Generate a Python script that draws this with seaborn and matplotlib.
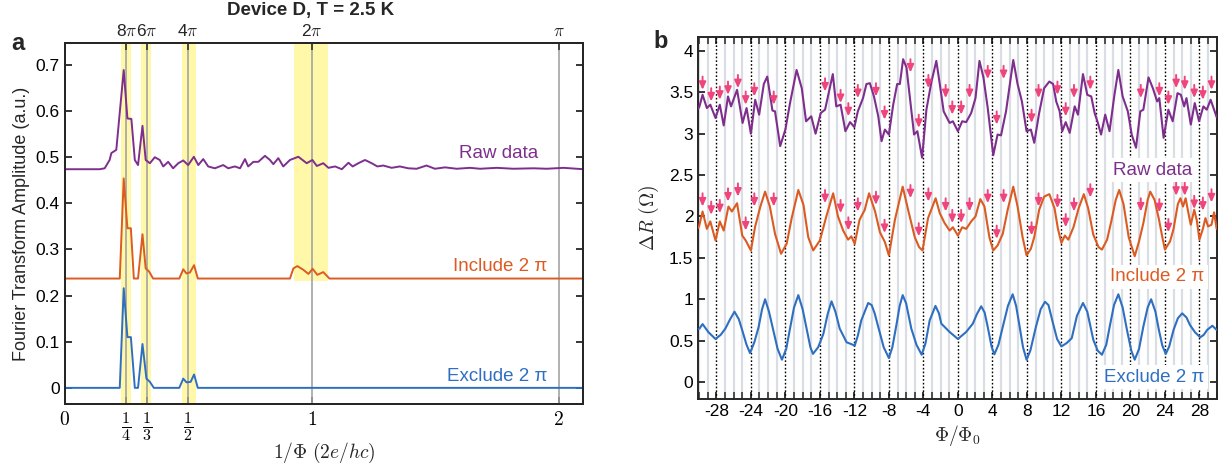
import numpy as np
import pandas as pd
import matplotlib
matplotlib.use("Agg")
import matplotlib.pyplot as plt
import seaborn as sns

# ---------------- data: panel a (Fourier spectra) ----------------
ft_raw_f = [0, 0.142, 0.162, 0.182, 0.189, 0.209, 0.239, 0.254, 0.270, 0.284, 0.297, 0.315,
            0.328, 0.345, 0.365, 0.385, 0.399, 0.419, 0.439, 0.460, 0.480, 0.500, 0.523,
            0.541, 0.561, 0.581, 0.608, 0.642, 0.662, 0.689, 0.710, 0.730, 0.743, 0.764,
            0.784, 0.811, 0.831, 0.845, 0.865, 0.885, 0.912, 0.946, 0.980, 1.003, 1.021,
            1.047, 1.068, 1.095, 1.122, 1.149, 1.166, 1.189, 1.216, 1.243, 1.266, 1.290,
            1.324, 1.357, 1.391, 1.425, 1.465, 1.499, 1.540, 1.587, 1.641, 1.682, 1.749,
            1.817, 1.898, 1.952, 2.020, 2.101]
ft_raw_a = [0.474, 0.474, 0.476, 0.494, 0.509, 0.516, 0.689, 0.584, 0.583, 0.494, 0.483, 0.568,
            0.494, 0.487, 0.500, 0.494, 0.480, 0.490, 0.476, 0.487, 0.493, 0.483, 0.501,
            0.483, 0.496, 0.480, 0.476, 0.483, 0.476, 0.480, 0.476, 0.496, 0.480, 0.490,
            0.490, 0.503, 0.494, 0.485, 0.498, 0.480, 0.494, 0.501, 0.487, 0.494, 0.481,
            0.487, 0.477, 0.480, 0.474, 0.488, 0.480, 0.487, 0.494, 0.487, 0.480, 0.482,
            0.477, 0.480, 0.476, 0.475, 0.482, 0.475, 0.478, 0.475, 0.477, 0.475, 0.477,
            0.475, 0.476, 0.475, 0.477, 0.474]

ft_inc_f = [0, 0.223, 0.239, 0.254, 0.268, 0.280, 0.297, 0.315, 0.328, 0.342, 0.358, 0.464,
            0.480, 0.493, 0.507, 0.524, 0.539, 0.912, 0.926, 0.942, 0.966, 0.987, 1.004,
            1.023, 1.047, 1.072, 2.101]
ft_inc_a = [0.237, 0.237, 0.454, 0.346, 0.346, 0.237, 0.237, 0.333, 0.259, 0.252, 0.237, 0.237,
            0.257, 0.248, 0.250, 0.266, 0.237, 0.237, 0.259, 0.264, 0.256, 0.247, 0.258,
            0.245, 0.251, 0.237, 0.237]

ft_exc_f = [0, 0.223, 0.239, 0.254, 0.268, 0.284, 0.297, 0.315, 0.331, 0.345, 0.361, 0.464,
            0.480, 0.493, 0.510, 0.524, 0.539, 2.101]
ft_exc_a = [0, 0, 0.216, 0.110, 0.110, 0, 0, 0.095, 0.020, 0.013, 0, 0,
            0.020, 0.012, 0.013, 0.029, 0, 0]

band_lo = [0.227, 0.309, 0.473, 0.929]
band_hi = [0.270, 0.351, 0.531, 1.068]
band_bottom = [None, None, None, 0.232]

harm_pos = [0.25, 1 / 3, 0.5, 1, 2]
harm_top_labels = ["8$\\pi$", "6$\\pi$", "4$\\pi$", "2$\\pi$", "$\\pi$"]
bottom_ticks = [0, 0.25, 1 / 3, 0.5, 1, 2]
bottom_labels = ["$0$", r"$\frac{1}{4}$", r"$\frac{1}{3}$", r"$\frac{1}{2}$", "$1$", "$2$"]

# ---------------- data: panel b (magnetoresistance) ----------------
raw_phi = [-30.1, -29.96, -29.6, -29.1, -28.7, -28.1, -27.6, -27.15, -26.65, -26.3, -25.6, -24.96,
           -24.5, -24.0, -23.5, -23.04, -22.5, -22.1, -21.5, -21.2, -20.6, -20.0, -19.46, -18.7,
           -18.1, -17.6, -17.0, -16.5, -15.9, -15.4, -14.5, -14.1, -13.6, -13.04, -12.5, -12.0,
           -11.6, -11.0, -10.6, -10.2, -9.73, -9.23, -8.85, -8.46, -8.0, -7.5, -7.04, -6.73,
           -6.35, -5.96, -5.58, -5.08, -4.7, -4.15, -3.65, -3.08, -2.5, -2.1, -1.65, -0.96,
           -0.58, 0.0, 0.5, 0.96, 1.54, 2.04, 2.5, 2.96, 3.46, 4.1, 4.6, 5.0, 5.58, 6.42, 6.92,
           7.42, 7.96, 8.46, 8.85, 9.42, 10.0, 10.6, 11.04, 11.4, 11.8, 12.1, 12.5, 12.96, 13.54,
           13.92, 14.5, 15.0, 15.46, 15.85, 16.23, 16.6, 17.08, 17.58, 18.15, 18.6, 19.1, 19.7,
           20.15, 20.65, 21.15, 21.5, 22.1, 22.6, 23.1, 23.35, 23.85, 24.4, 24.9, 25.46, 25.85,
           26.23, 26.5, 27.0, 27.46, 27.96, 28.46, 28.85, 29.3, 29.9, 30.0]
raw_dr = [3.30, 3.33, 3.47, 3.31, 3.35, 3.19, 3.35, 3.10, 3.45, 3.33, 3.53, 3.13,
          3.31, 3.00, 3.41, 3.23, 3.60, 3.69, 3.28, 3.27, 2.85, 3.05, 3.37, 3.77,
          3.55, 3.15, 3.21, 3.00, 3.25, 3.29, 3.72, 3.33, 3.35, 3.03, 3.14, 3.08,
          3.27, 3.43, 3.60, 3.61, 3.45, 3.21, 2.91, 3.05, 2.99, 3.35, 3.60, 3.60,
          3.90, 3.80, 3.45, 2.99, 3.03, 2.71, 3.29, 3.62, 3.88, 3.60, 3.27, 3.13,
          3.15, 3.03, 3.15, 3.14, 3.25, 3.43, 3.88, 3.68, 3.31, 2.74, 2.99, 2.98, 3.27, 3.89, 3.60,
          3.39, 3.03, 3.05, 2.89, 3.25, 3.55, 3.63, 3.60, 3.39, 3.27, 3.03, 3.14, 3.01, 3.33,
          3.23, 3.72, 3.47, 3.45, 3.25, 3.13, 2.99, 3.23, 3.03, 3.47, 3.77, 3.45, 3.27,
          2.99, 2.83, 3.27, 3.29, 3.68, 3.55, 3.39, 3.43, 2.95, 3.29, 3.15, 3.49, 3.47,
          3.33, 3.43, 3.11, 3.37, 3.15, 3.33, 3.29, 3.41, 3.23, 3.20]

inc_phi = [-30.1, -29.96, -29.6, -29.1, -28.7, -28.1, -27.6, -27.15, -26.6, -26.2, -25.6, -25.0,
           -24.6, -24.0, -23.5, -22.9, -22.35, -21.8, -21.2, -20.5, -19.85, -19.27, -18.5, -17.9,
           -17.35, -16.77, -16.0, -15.2, -14.46, -13.9, -13.3, -12.73, -12.35, -11.96, -11.4,
           -10.8, -10.3, -9.6, -9.04, -8.46, -8.0, -7.3, -6.4, -5.77, -5.0, -4.5, -4.1, -3.46,
           -2.58, -2.1, -1.54, -0.96, -0.58, 0.0, 0.5, 0.96, 1.54, 2.04, 2.6, 3.08, 3.65, 4.1,
           4.6, 5.2, 5.77, 6.42, 6.92, 7.5, 7.96, 8.46, 8.85, 9.42, 10.0, 10.6, 11.2, 11.6, 12.0,
           12.4, 12.8, 13.4, 14.0, 14.6, 15.1, 15.7, 16.3, 16.7, 17.3, 17.8, 18.3, 18.7, 19.2,
           19.8, 20.5, 21.0, 21.5, 22.0, 22.3, 22.8, 23.3, 23.7, 24.0, 24.6, 25.0, 25.5, 25.8,
           26.1, 26.4, 26.8, 27.0, 27.4, 27.7, 28.0, 28.4, 28.7, 29.0, 29.4, 29.7, 30.0]
inc_dr = [1.86, 1.90, 2.06, 1.85, 1.94, 1.71, 1.94, 1.83, 2.12, 2.06, 2.16, 1.77,
          1.71, 1.59, 1.88, 2.12, 2.30, 2.12, 1.79, 1.55, 1.67, 1.98, 2.32, 2.14,
          1.75, 1.59, 1.71, 2.02, 2.28, 2.00, 1.83, 1.72, 1.76, 1.67, 1.96,
          2.08, 2.28, 2.06, 1.81, 1.69, 1.53, 1.96, 2.36, 2.08, 1.75, 1.63, 1.59, 1.98,
          2.22, 2.04, 1.92, 1.83, 1.87, 1.77, 1.87, 1.85, 1.94, 2.00, 2.21, 2.12, 1.75, 1.59,
          1.65, 1.79, 2.08, 2.36, 2.12, 1.75, 1.53, 1.61, 1.75, 2.08, 2.24, 2.27, 2.10, 1.85, 1.68,
          1.77, 1.72, 1.87, 2.10, 2.27, 2.10, 1.78, 1.63, 1.60, 1.72, 1.95, 2.20, 2.32, 2.15,
          1.75, 1.52, 1.70, 1.92, 2.20, 2.30, 2.20, 1.97, 1.75, 1.60, 1.70, 1.85, 2.15, 2.22,
          2.12, 2.22, 2.00, 1.90, 2.08, 1.95, 1.72, 1.85, 1.98, 1.88, 1.90, 2.05, 1.85]

exc_phi = [-30.1, -29.96, -29.6, -28.9, -28.1, -27.5, -26.96, -26.4, -25.9, -25.4, -25.0, -24.5,
           -24.1, -23.6, -23.1, -22.7, -22.35, -21.9, -21.4, -20.9, -20.4, -19.9, -19.5, -19.0,
           -18.5, -18.0, -17.5, -17.1, -16.8, -16.2, -15.6, -15.1, -14.65, -14.2, -13.7, -12.9,
           -12.4, -11.96, -11.6, -11.2, -10.4, -10.0, -9.65, -9.23, -8.6, -8.0, -7.6, -7.1,
           -6.75, -6.4, -6.0, -5.4, -4.8, -4.2, -3.75, -3.27, -2.6, -2.2, -1.92, -0.96, 0.0,
           0.96, 1.73, 2.2, 2.7, 3.1, 3.46, 3.9, 4.23, 4.7, 5.2, 5.8, 6.35, 6.75, 7.1, 7.55,
           7.96, 8.4, 9.04, 9.6, 10.1, 10.5, 11.0, 11.5, 12.0, 12.6, 13.2, 13.8, 14.5, 15.0,
           15.7, 16.2, 16.7, 17.2, 17.6, 18.1, 18.6, 19.1, 19.6, 20.1, 20.5, 21.0, 21.5, 22.0,
           22.4, 22.9, 23.3, 23.7, 24.1, 24.5, 25.0, 25.5, 26.0, 26.5, 26.9, 27.5, 28.1, 28.5,
           28.9, 29.5, 30.0]
exc_dr = [0.64, 0.645, 0.70, 0.60, 0.52, 0.57, 0.645, 0.76, 0.85, 0.76, 0.625, 0.45,
          0.35, 0.48, 0.665, 0.88, 1.00, 0.85, 0.625, 0.40, 0.27, 0.40, 0.625, 0.90,
          1.05, 0.88, 0.625, 0.42, 0.34, 0.42, 0.58, 0.82, 0.975, 0.85, 0.645, 0.48,
          0.46, 0.44, 0.56, 0.745, 0.955, 0.93, 0.83, 0.665, 0.42, 0.29, 0.42, 0.705,
          0.92, 1.05, 0.95, 0.645, 0.45, 0.33, 0.47, 0.745, 0.92, 0.83, 0.705, 0.605, 0.52,
          0.605, 0.705, 0.82, 0.915, 0.84, 0.665, 0.43, 0.335, 0.45, 0.665, 0.92, 1.06, 0.92, 0.705, 0.42,
          0.27, 0.38, 0.665, 0.88, 0.97, 0.93, 0.72, 0.52, 0.43, 0.47, 0.53, 0.80, 0.955, 0.85,
          0.51, 0.38, 0.33, 0.45, 0.67, 0.93, 1.06, 0.90, 0.63, 0.38, 0.27, 0.40, 0.67, 0.90,
          1.00, 0.85, 0.63, 0.44, 0.34, 0.43, 0.63, 0.77, 0.83, 0.78, 0.69, 0.60, 0.54, 0.57,
          0.63, 0.68, 0.63]

arrow_phi = [-29.6, -28.6, -27.6, -26.65, -25.5, -24.6, -23.6, -21.35, -15.4, -13.6, -12.7, -11.6,
             -9.5, -8.5, -5.5, -4.54, -3.42, -1.42, -0.65, 0.38, 1.35, 3.46, 4.5, 5.3, 8.54, 9.35,
             11.54, 12.5, 13.46, 15.35, 21.2, 23.35, 24.4, 25.3, 26.3, 27.4, 28.4, 29.4]
arrow_raw_tip = [3.53, 3.39, 3.41, 3.47, 3.55, 3.35, 3.45, 3.35, 3.51, 3.37, 3.21, 3.43,
                 3.45, 3.17, 3.74, 3.07, 3.55, 3.43, 3.23, 3.23, 3.43, 3.66, 3.11, 3.66, 3.13, 3.43,
                 3.47, 3.21, 3.43, 3.53, 3.43, 3.45, 3.35, 3.55, 3.53, 3.43, 3.41, 3.53]
arrow_inc_tip = [2.12, 2.02, 2.04, 2.18, 2.24, 1.83, 2.12, 2.12, 2.16, 2.04, 1.83, 2.06,
                 2.14, 1.80, 2.22, 1.76, 2.18, 2.06, 1.92, 1.92, 2.06, 2.16, 1.73, 2.16, 1.77, 2.12,
                 2.10, 1.87, 2.06, 2.23, 2.06, 2.05, 1.81, 2.25, 2.25, 2.09, 2.07, 2.17]

series_names = ["Raw data", "Include 2 \u03c0", "Exclude 2 \u03c0"]
PURPLE, ORANGE, BLUE = "#7E2F8E", "#DC5B22", "#2F6FC2"
PINK = "#F0457C"
YELLOW = "#FEF8A8"

# ---------------- style ----------------
sns.set_theme(style="ticks")
plt.rcParams["font.family"] = ["Liberation Sans", "DejaVu Sans"]
plt.rcParams["mathtext.fontset"] = "cm"
plt.rcParams["axes.linewidth"] = 1.4

fig = plt.figure(figsize=(12.25, 4.67), dpi=100)
axa = fig.add_axes([0.0528, 0.1349, 0.4234, 0.7724])
axb = fig.add_axes([0.5700, 0.1456, 0.4232, 0.7746])

# ---------------- panel a ----------------
ylo, yhi = -0.035, 0.747
for lo, hi, bt in zip(band_lo, band_hi, band_bottom):
    ymin = 0 if bt is None else (bt - ylo) / (yhi - ylo)
    axa.axvspan(lo, hi, ymin=ymin, ymax=1, color=YELLOW, lw=0, zorder=0)
for p in harm_pos:
    axa.axvline(p, color="#A3A3A3", lw=1.2, zorder=1)

for f, a, c in [(ft_raw_f, ft_raw_a, PURPLE), (ft_inc_f, ft_inc_a, ORANGE), (ft_exc_f, ft_exc_a, BLUE)]:
    sns.lineplot(x=f, y=a, ax=axa, color=c, linewidth=1.4, estimator=None, sort=False, zorder=3)

axa.set_xlim(0, 2.10)
axa.set_ylim(ylo, yhi)
axa.set_yticks(np.arange(0, 0.71, 0.1))
axa.set_yticklabels(["0", "0.1", "0.2", "0.3", "0.4", "0.5", "0.6", "0.7"])
axa.set_xticks(bottom_ticks)
axa.set_xticklabels(bottom_labels)
axa.tick_params(axis="both", direction="in", length=5, width=1.1, labelsize=12.5, right=True,
                colors="black")
axa.tick_params(axis="x", pad=5)
for lab in axa.get_xticklabels():
    lab.set_fontsize(16.5 if "frac" in lab.get_text() else 14)
axa.set_ylabel("Fourier Transform Amplitude (a.u.)", fontsize=13, labelpad=4)
axa.set_xlabel(r"$1/\Phi\ (2e/hc)$", fontsize=14)
axa.xaxis.set_label_coords(0.5, -0.103)
axt = axa.twiny()
axt.set_xlim(axa.get_xlim())
axt.set_xticks(harm_pos)
axt.set_xticklabels(harm_top_labels)
axt.tick_params(axis="x", direction="in", length=5, width=1.1, labelsize=12.5, pad=3)
for sp in axt.spines.values():
    sp.set_linewidth(1.4)

axa.text(1.918, 0.509, series_names[0], color=PURPLE, fontsize=13.5, ha="right", va="center")
axa.text(1.953, 0.263, series_names[1], color=ORANGE, fontsize=13.5, ha="right", va="center")
axa.text(1.953, 0.025, series_names[2], color=BLUE, fontsize=13.5, ha="right", va="center")

# ---------------- panel b ----------------
for k in range(-30, 31):
    if k % 4 == 0:
        axb.axvline(k, color="black", lw=1.0, ls=(0, (1.2, 1.5)), zorder=1)
    else:
        axb.axvline(k, color="#DADDE3", lw=1.6, zorder=0)

for ph, dr, c in [(raw_phi, raw_dr, PURPLE), (inc_phi, inc_dr, ORANGE), (exc_phi, exc_dr, BLUE)]:
    sns.lineplot(x=ph, y=dr, ax=axb, color=c, linewidth=1.5, estimator=None, sort=False, zorder=3)

for xp, t1, t2 in zip(arrow_phi, arrow_raw_tip, arrow_inc_tip):
    for t in (t1, t2):
        axb.annotate("", xy=(xp, t), xytext=(xp, t + 0.16),
                     arrowprops=dict(arrowstyle="-|>,head_length=0.45,head_width=0.2",
                                     color=PINK, lw=1.4, shrinkA=0, shrinkB=0,
                                     mutation_scale=10), zorder=4)

axb.set_xlim(-30.1, 29.95)
axb.set_ylim(-0.205, 4.165)
axb.set_xticks(np.arange(-28, 29, 4))
axb.set_xticklabels([str(v) for v in range(-28, 29, 4)])
axb.set_xticks(np.arange(-30, 31, 1), minor=True)
axb.set_yticks(np.arange(0, 4.01, 0.5))
axb.set_yticklabels(["0", "0.5", "1", "1.5", "2", "2.5", "3", "3.5", "4"])
axb.tick_params(axis="both", which="major", direction="in", length=5, width=1.1, labelsize=12.5,
                top=True, right=True, colors="black")
axb.tick_params(axis="x", which="minor", direction="in", length=5, width=1.1, top=True, bottom=True)
axb.set_xlabel(r"$\Phi/\Phi_0$", fontsize=14, labelpad=3)
axb.set_ylabel(r"$\Delta R\ (\Omega)$", fontsize=14, labelpad=6)

box = dict(facecolor="white", edgecolor="none", pad=2.5)
axb.text(27.2, 2.56, series_names[0], color=PURPLE, fontsize=13.5, ha="right", va="center", bbox=box, zorder=5)
axb.text(28.6, 1.27, series_names[1], color=ORANGE, fontsize=13.5, ha="right", va="center", bbox=box, zorder=5)
axb.text(28.6, 0.06, series_names[2], color=BLUE, fontsize=13.5, ha="right", va="center", bbox=box, zorder=5)

# ---------------- titles / panel letters ----------------
fig.text(311 / 1225, 1 - 10 / 467, "Device D, T = 2.5 K", fontsize=13.5, fontweight="bold",
         ha="center", va="center")
fig.text(18 / 1225, 1 - 43 / 467, "a", fontsize=17, fontweight="bold", ha="center", va="center")
fig.text(661 / 1225, 1 - 42 / 467, "b", fontsize=17, fontweight="bold", ha="center", va="center")

fig.savefig("out.png", dpi=100)
